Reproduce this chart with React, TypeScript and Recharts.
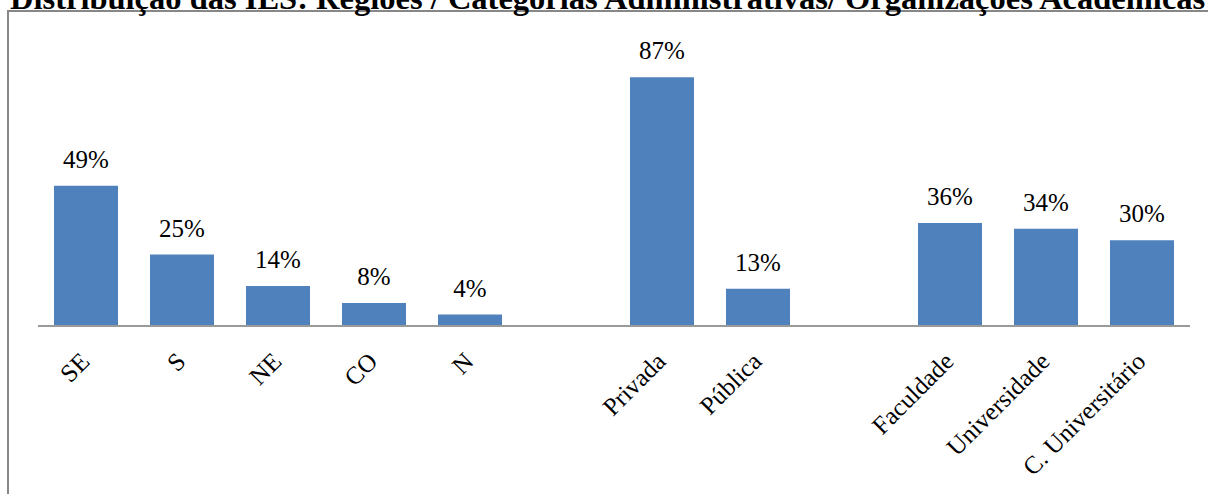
import React from 'react'
import { Bar, BarChart, XAxis, YAxis, LabelList } from 'recharts'

// blank entries keep the gaps between the three groups
const categories = ['SE', 'S', 'NE', 'CO', 'N', '', 'Privada', 'Pública', ' ', 'Faculdade', 'Universidade', 'C. Universitário']
const shares: (number | null)[] = [49, 25, 14, 8, 4, null, 87, 13, null, 36, 34, 30]

const title = 'Distribuição das IES: Regiões / Categorias Administrativas/ Organizações Acadêmicas'

const data = categories.map((name, i) => ({ name, value: shares[i] }))

const FONT = "'Liberation Serif', 'Times New Roman', serif"

function AngledTick({ x, y, payload }: any) {
  if (!payload.value || !payload.value.trim()) return null
  const tx = x + 5
  const ty = y + 29
  return (
    <text
      x={tx}
      y={ty}
      transform={`rotate(-45 ${tx} ${ty})`}
      textAnchor="end"
      style={{ fontFamily: FONT, fontSize: 25 }}
      fill="#000"
    >
      {payload.value}
    </text>
  )
}

function PctLabel({ x, y, width, value }: any) {
  if (value == null) return null
  return (
    <text x={x + width / 2} y={y - 18} textAnchor="middle" style={{ fontFamily: FONT, fontSize: 25 }} fill="#000">
      {value}%
    </text>
  )
}

export default function App() {
  return (
    <div
      style={{
        position: 'absolute',
        left: 0,
        top: 0,
        width: 1208,
        height: 494,
        overflow: 'hidden',
        background: '#fff',
        fontFamily: FONT,
      }}
    >
      <div
        style={{
          position: 'absolute',
          left: 7,
          top: 10,
          width: 1400,
          height: 700,
          border: '2px solid #878787',
          boxSizing: 'border-box',
        }}
      />
      <svg width={1208} height={20} style={{ position: 'absolute', left: 0, top: 0 }}>
        <text x={10} y={9} style={{ fontFamily: FONT, fontWeight: 'bold', fontSize: 32.5 }} fill="#000">
          {title}
        </text>
      </svg>
      <div style={{ position: 'absolute', left: 0, top: 0 }}>
        <BarChart
          width={1208}
          height={494}
          data={data}
          margin={{ top: 40, right: 18, left: 38, bottom: 0 }}
          style={{ fontFamily: FONT }}
        >
          <XAxis
            dataKey="name"
            height={168}
            interval={0}
            tickLine={false}
            axisLine={{ stroke: '#9a9a9a', strokeWidth: 2 }}
            tick={<AngledTick />}
          />
          <YAxis hide domain={[0, 100]} />
          <Bar dataKey="value" fill="#4F81BD" barSize={64} isAnimationActive={false}>
            <LabelList dataKey="value" content={<PctLabel />} />
          </Bar>
        </BarChart>
      </div>
    </div>
  )
}
